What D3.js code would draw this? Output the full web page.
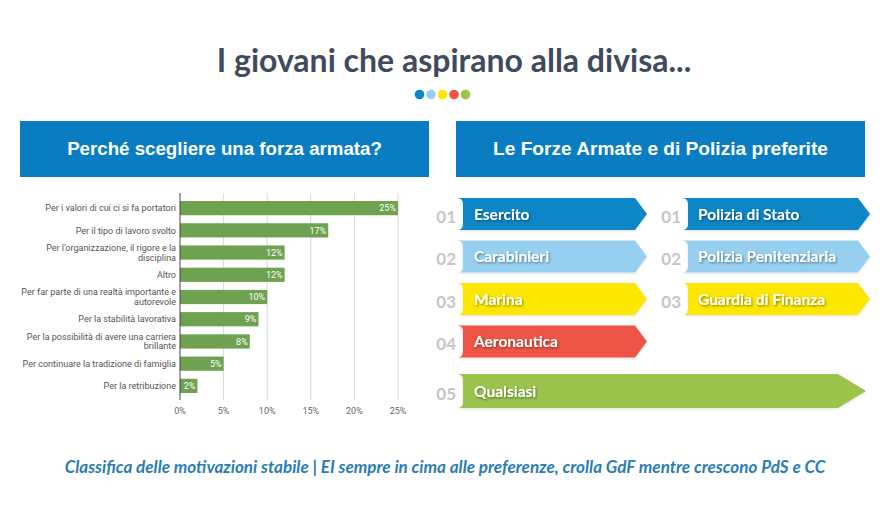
<!DOCTYPE html>
<html><head><meta charset="utf-8">
<script src="https://cdn.jsdelivr.net/npm/d3@7/dist/d3.min.js"></script>
<style>body{margin:0;background:#fff}svg{display:block}</style>
</head><body>
<svg id="c" width="891" height="506"></svg>
<script>
// ---- data ----
const title = "I giovani che aspirano alla divisa...";
const subtitle = "Classifica delle motivazioni stabile | EI sempre in cima alle preferenze, crolla GdF mentre crescono PdS e CC";
const leftHeader = "Perché scegliere una forza armata?";
const rightHeader = "Le Forze Armate e di Polizia preferite";
const motivations = [
  ["Per i valori di cui ci si fa portatori"],
  ["Per il tipo di lavoro svolto"],
  ["Per l'organizzazione, il rigore e la", "disciplina"],
  ["Altro"],
  ["Per far parte di una realtà importante e", "autorevole"],
  ["Per la stabilità lavorativa"],
  ["Per la possibilità di avere una carriera", "brillante"],
  ["Per continuare la tradizione di famiglia"],
  ["Per la retribuzione"]
];
const motivationValues = [25, 17, 12, 12, 10, 9, 8, 5, 2];
const xTicks = [0, 5, 10, 15, 20, 25];
const palette = ["#0a86c8", "#96cff0", "#fde600", "#ef5446", "#9bc44d"];
const forcesArmed = ["Esercito", "Carabinieri", "Marina", "Aeronautica"];
const forcesArmedRank = ["01", "02", "03", "04"];
const forcesPolice = ["Polizia di Stato", "Polizia Penitenziaria", "Guardia di Finanza"];
const forcesPoliceRank = ["01", "02", "03"];
const forcesAny = ["Qualsiasi"];
const forcesAnyRank = ["05"];

const svg = d3.select("#c");
const defs = svg.append("defs");
const f = defs.append("filter").attr("id","ts").attr("x","-10%").attr("y","-30%").attr("width","120%").attr("height","160%");
f.append("feDropShadow").attr("dx",1).attr("dy",1.2).attr("stdDeviation",1).attr("flood-color","#000").attr("flood-opacity",0.45);
const f2 = defs.append("filter").attr("id","as").attr("x","-5%").attr("y","-20%").attr("width","110%").attr("height","150%");
f2.append("feDropShadow").attr("dx",0).attr("dy",1).attr("stdDeviation",1).attr("flood-color","#000").attr("flood-opacity",0.12);

// ---- title ----
svg.append("text").attr("x",454).attr("y",72).attr("text-anchor","middle")
  .attr("font-family","Lato").attr("font-weight","bold").attr("font-size",32)
  .attr("fill","#3f4b5d").text(title);
const dotX = d3.scalePoint().domain(d3.range(5)).range([419.5,465.5]);
svg.selectAll("circle.dot").data(palette).join("circle").attr("class","dot")
  .attr("cx",(d,i)=>dotX(i)).attr("cy",94.5).attr("r",4.8).attr("fill",d=>d);

// ---- headers ----
const headers = [{x:20,w:409,t:leftHeader,tw:315},{x:456,w:409,t:rightHeader,tw:335}];
headers.forEach(h=>{
  svg.append("rect").attr("x",h.x).attr("y",121).attr("width",h.w).attr("height",56).attr("fill","#0a7dc2");
  const t = svg.append("text").attr("x",h.x+h.w/2).attr("y",155).attr("text-anchor","middle")
    .attr("font-family","Liberation Sans, Arial").attr("font-weight","bold").attr("font-size",18)
    .attr("fill","#fff").text(h.t);
  const w = t.node().getComputedTextLength();
  t.attr("font-size", 18*h.tw/w);
});

// ---- bar chart ----
const x = d3.scaleLinear().domain([0,25]).range([180,398]);
const y = d3.scaleBand().domain(d3.range(motivations.length)).range([197,397]).paddingInner(0.36).paddingOuter(0.18);
const g = svg.append("g");
g.selectAll("line.grid").data(xTicks.slice(1)).join("line").attr("class","grid")
  .attr("x1",d=>x(d)).attr("x2",d=>x(d)).attr("y1",193).attr("y2",400)
  .attr("stroke","#d9d9d9").attr("stroke-width",1);
g.selectAll("rect.bar").data(motivationValues).join("rect").attr("class","bar")
  .attr("x",x(0)).attr("y",(d,i)=>y(i)).attr("width",d=>x(d)-x(0)).attr("height",y.bandwidth())
  .attr("fill","#6ea150");
g.append("line").attr("x1",x(0)).attr("x2",x(0)).attr("y1",193).attr("y2",400).attr("stroke","#444").attr("stroke-width",1);
g.selectAll("text.val").data(motivationValues).join("text").attr("class","val")
  .attr("x",d=>x(d)-2).attr("y",(d,i)=>y(i)+y.bandwidth()/2+3.2).attr("text-anchor","end")
  .attr("font-family","Roboto").attr("font-size",9).attr("fill","#fff").text(d=>d+"%");
motivations.forEach((lines,i)=>{
  const cy = y(i)+y.bandwidth()/2;
  const t = g.append("text").attr("text-anchor","end").attr("font-family","Roboto").attr("font-size",9).attr("fill","#555");
  lines.forEach((l,j)=>{
    t.append("tspan").attr("x",176).attr("y",cy+3.2+(j-(lines.length-1)/2)*9.5).text(l);
  });
});
g.selectAll("text.tick").data(xTicks).join("text").attr("class","tick")
  .attr("x",d=>x(d)).attr("y",414).attr("text-anchor","middle")
  .attr("font-family","Roboto").attr("font-size",9).attr("fill","#666").text(d=>d+"%");

// ---- arrows ----
const rowY = d3.scaleLinear().domain([0,1]).range([198,240.5]);
function arrowPath(x0,x1,tipW,y0,h){
  const y1=y0+h, ym=y0+h/2, xb=x1-tipW, n=6;
  return `M${x0},${y0} L${xb},${y0} L${x1},${ym} L${xb},${y1} L${x0},${y1} Q${x0+n},${y1} ${x0+n},${y1-n} L${x0+n},${y0+n} Q${x0+n},${y0} ${x0},${y0} Z`;
}
const items = [];
forcesArmed.forEach((n,i)=>items.push({name:n,rank:forcesArmedRank[i],col:0,row:i,color:palette[i]}));
forcesPolice.forEach((n,i)=>items.push({name:n,rank:forcesPoliceRank[i],col:1,row:i,color:palette[i]}));
forcesAny.forEach((n,i)=>items.push({name:n,rank:forcesAnyRank[i],col:2,row:4,color:palette[4]}));
const cols = [{x0:457,x1:647,num:456,lx:474},{x0:682,x1:870,num:681,lx:698},{x0:457,x1:866,num:456,lx:474}];
const ag = svg.append("g");
items.forEach(d=>{
  const c = cols[d.col];
  const top = d.col===2 ? rowY(d.row)+6 : rowY(d.row);
  const h = d.col===2 ? 34 : 32;
  ag.append("path").attr("d",arrowPath(c.x0,c.x1,d.col===2?28:12,top,h)).attr("fill",d.color).attr("filter","url(#as)");
  ag.append("text").attr("x",c.num).attr("y",top+h/2+8.5).attr("text-anchor","end")
    .attr("font-family","Lato").attr("font-weight","bold").attr("font-size",17).attr("fill","#c4c6c9").text(d.rank);
  ag.append("text").attr("x",c.lx).attr("y",top+h/2+5.5)
    .attr("font-family","Lato").attr("font-weight","bold").attr("font-size",15.5).attr("fill","#fff")
    .attr("filter","url(#ts)").text(d.name);
});

// ---- subtitle ----
const st = svg.append("text").attr("x",445).attr("y",473).attr("text-anchor","middle")
  .attr("font-family","Lato").attr("font-style","italic").attr("font-weight","bold").attr("font-size",17)
  .attr("fill","#2b7cb3").text(subtitle);
const w = st.node().getComputedTextLength();
st.attr("font-size", 17*761/w);
</script>
</body></html>
